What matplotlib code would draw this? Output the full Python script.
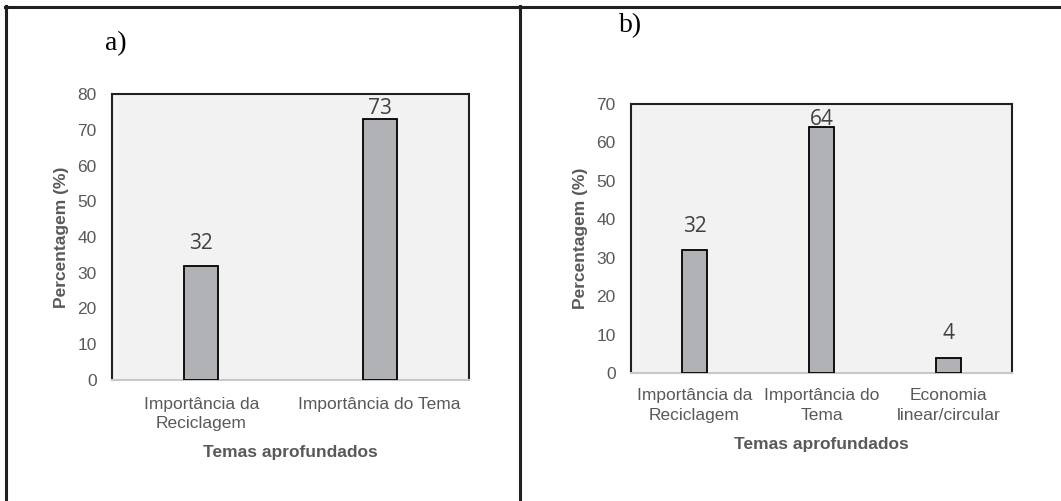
import matplotlib
matplotlib.use("Agg")
import matplotlib.pyplot as plt
from matplotlib.lines import Line2D

# ---- data ----
cats_a = ["Importância da\nReciclagem", "Importância do Tema"]
vals_a = [32, 73]
cats_b = ["Importância da\nReciclagem", "Importância do\nTema", "Economia\nlinear/circular"]
vals_b = [32, 64, 4]
panel_labels = ["a)", "b)"]
ylabel = "Percentagem (%)"
xlabel = "Temas aprofundados"

W, H = 1061, 501
fig = plt.figure(figsize=(W / 100, H / 100), dpi=100)
fig.patch.set_facecolor("white")

TICK_C = "#595959"
BAR_C = "#B1B2B5"
FACE_C = "#F2F2F3"
LINE_C = "#231F20"
FS = 12.5


def px_axes(l, t, r, b):
    return fig.add_axes([l / W, (H - b) / H, (r - l) / W, (b - t) / H])


def draw(ax, cats, vals, ymax, xpad, xlabpad):
    x = list(range(len(cats)))
    ax.set_facecolor(FACE_C)
    ax.bar(x, vals, width=0.19, color=BAR_C, edgecolor="black", linewidth=1.3, zorder=3)
    ax.set_xlim(-0.5, len(cats) - 0.5)
    ax.set_ylim(0, ymax)
    ax.set_yticks(range(0, ymax + 1, 10))
    ax.set_xticks(x)
    ax.set_xticklabels(cats, linespacing=1.4)
    ax.tick_params(axis="both", length=0, labelsize=FS, labelcolor=TICK_C,
                   labelfontfamily="Liberation Sans")
    ax.tick_params(axis="y", pad=11)
    ax.tick_params(axis="x", pad=xpad)
    for s in ["left", "top", "right"]:
        ax.spines[s].set_color(LINE_C)
        ax.spines[s].set_linewidth(1.5)
    ax.spines["bottom"].set_color("#C8C8C8")
    ax.spines["bottom"].set_linewidth(1.5)
    ax.set_ylabel(ylabel, fontsize=FS, fontweight="bold", color=TICK_C,
                  family="Liberation Sans", labelpad=6)
    ax.set_xlabel(xlabel, fontsize=FS, fontweight="bold", color=TICK_C,
                  family="Liberation Sans", labelpad=xlabpad)
    for xi, v in zip(x, vals):
        ylab = min(v + 6.2, ymax - 4.0)
        ax.text(xi, ylab, str(v), ha="center", va="center", fontsize=15,
                color="#404040", family="Open Sans", zorder=4)


ax_a = px_axes(112, 94, 469, 380)
draw(ax_a, cats_a, vals_a, 80, 12, 10)
ax_b = px_axes(631, 104, 1012, 373)
draw(ax_b, cats_b, vals_b, 70, 11, 10)

fig.text(105 / W, 1 - 44 / H, panel_labels[0], fontsize=20, family="Liberation Serif",
         ha="left", va="center")
fig.text(619 / W, 1 - 26 / H, panel_labels[1], fontsize=20, family="Liberation Serif",
         ha="left", va="center")

# table borders
def fline(x0, y0, x1, y1):
    fig.add_artist(Line2D([x0 / W, x1 / W], [1 - y0 / H, 1 - y1 / H],
                          color=LINE_C, linewidth=2.2, transform=fig.transFigure))

fline(5, 7, W, 7)
fline(6, 6, 6, H)
fline(520, 6, 520, H)

fig.savefig("out.png", dpi=100)
